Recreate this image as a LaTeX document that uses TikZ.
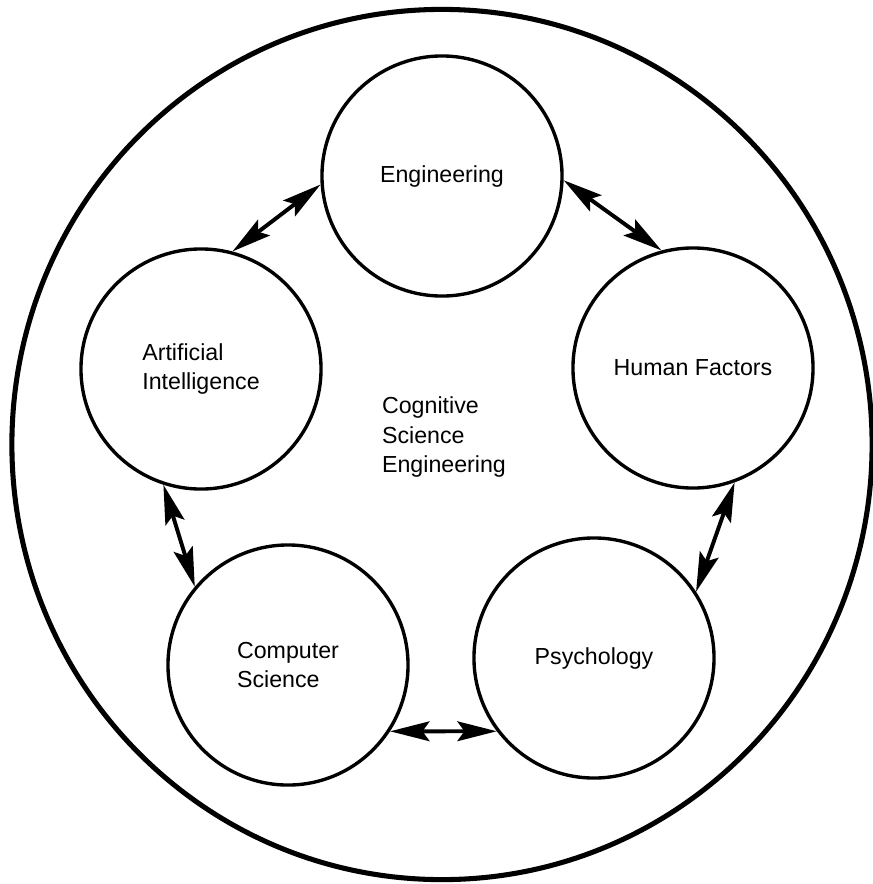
\documentclass[tikz,border=0pt]{standalone}
\usepackage{fontspec}
\setmainfont{Liberation Sans}
\usepackage{tikz}
\usetikzlibrary{arrows.meta}

\tikzset{
  field/.style={draw, circle, line width=2.4pt, minimum size=6cm, inner sep=0pt, align=left,
    font=\fontsize{16.5}{21.3}\selectfont},
  link/.style={{Stealth[length=28pt,width=14pt,inset=5pt]}-{Stealth[length=28pt,width=14pt,inset=5pt]}, line width=2.8pt}
}

\begin{document}
\begin{tikzpicture}[x=0.025cm, y=-0.025cm]
                \useasboundingbox (0,0) rectangle (873,884);
                \draw[line width=3.6pt] (442,444.5) ellipse [x radius=10.75cm, y radius=10.875cm];
                \node[align=left, font=\fontsize{16.5}{21.3}\selectfont] (cse) at (444,437) {Cognitive\\Science\\Engineering};

                \node[field] (eng) at (442,176) {Engineering};
                \node[field] (hf) at (693,368) {Human Factors};
                \node[field] (psy) at (594,658) {Psychology};
                \node[field] (cs) at (288,665) {Computer\\Science};
                \node[field] (ai) at (201,369) {Artificial\\Intelligence};

                \draw[link] (eng.184) -- (ai.75);
                \draw[link] (eng.358) -- (hf.105);
                \draw[link] (hf.290) -- (psy.33);
                \draw[link] (ai.252) -- (cs.140);
                \draw[link] (cs.327) -- (psy.217);
                \end{tikzpicture}
\end{document}
